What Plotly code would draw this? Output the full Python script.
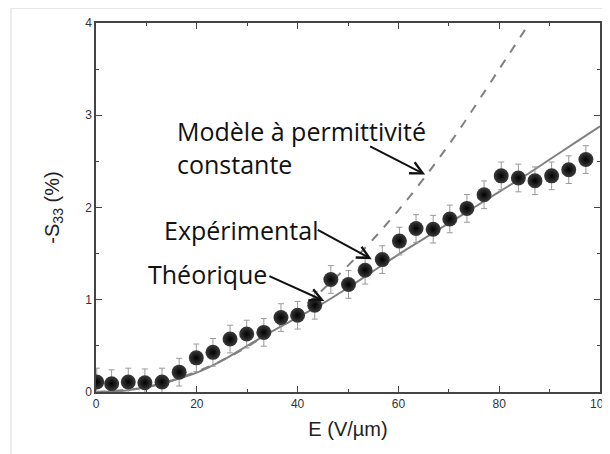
import plotly.graph_objects as go

# Experimental data
exp_x = [0.15, 3.1, 6.4, 9.7, 13.1, 16.5, 19.9, 23.2, 26.6, 29.9, 33.3, 36.7, 40.0, 43.4, 46.6,
         50.1, 53.4, 56.8, 60.2, 63.5, 66.9, 70.2, 73.6, 77.0, 80.4, 83.8, 87.1, 90.4, 93.8, 97.2]
exp_y = [0.108, 0.09, 0.108, 0.10, 0.108, 0.215, 0.37, 0.43, 0.574, 0.628, 0.646, 0.807, 0.832, 0.94, 1.22,
         1.166, 1.32, 1.435, 1.636, 1.772, 1.765, 1.876, 1.99, 2.138, 2.343, 2.32, 2.29, 2.343, 2.41, 2.52]
exp_err = [0.15] * len(exp_x)

# Theoretical curve
theo_x = [0, 5, 10, 15, 20, 25, 30, 35, 40, 45, 50, 55, 60, 65, 70, 75, 80, 85, 90, 95, 100]
theo_y = [0.0, 0.01, 0.05, 0.12, 0.21, 0.34, 0.50, 0.66, 0.81, 0.96, 1.13, 1.31, 1.49, 1.66, 1.83,
          2.0, 2.17, 2.34, 2.52, 2.70, 2.88]

# Constant permittivity model
const_x = [0, 10, 20, 30, 40, 50, 60, 70, 80, 86]
const_y = [0.0, 0.055, 0.22, 0.49, 0.875, 1.37, 1.97, 2.68, 3.5, 4.0]

x_ticks = [0, 20, 40, 60, 80, 100]
y_ticks = [0, 1, 2, 3, 4]

fig = go.Figure()
fig.add_trace(go.Scatter(x=const_x, y=const_y, mode="lines", line=dict(color="#808080", width=2, dash="dash", shape="spline"),
                         showlegend=False, hoverinfo="skip"))
fig.add_trace(go.Scatter(x=theo_x, y=theo_y, mode="lines", line=dict(color="#808080", width=2, shape="spline"),
                         showlegend=False, hoverinfo="skip"))
fig.add_trace(go.Scatter(x=exp_x, y=exp_y, mode="markers",
                         error_y=dict(type="data", array=exp_err, color="#999999", thickness=1, width=3),
                         marker=dict(size=15, color="#3c3c3c", gradient=dict(type="radial", color="#000000"),
                                     line=dict(width=0)),
                         showlegend=False))

txt_font = dict(family="Open Sans, Noto Sans, sans-serif", size=25, color="#111111")
for text, x, y in [("Modèle à permittivité", 15.6, 2.83), ("constante", 15.6, 2.475),
                   ("Expérimental", 13.1, 1.76), ("Théorique", 10.0, 1.28)]:
    fig.add_annotation(x=x, y=y, text=text, showarrow=False, xanchor="left", yanchor="middle", font=txt_font)

for (tx, ty, hx, hy) in [(54.1, 2.67, 65.3, 2.357), (43.7, 1.765, 54.7, 1.44), (34.1, 1.263, 45.3, 0.987)]:
    fig.add_annotation(x=hx, y=hy, ax=tx, ay=ty, xref="x", yref="y", axref="x", ayref="y", text="",
                       showarrow=True, arrowhead=5, arrowsize=1.2, arrowwidth=2, arrowcolor="#111111")

axis_common = dict(showline=True, linecolor="#444444", linewidth=1.5, mirror="ticks", ticks="inside",
                   ticklen=6, tickcolor="#444444", showgrid=False, zeroline=False, automargin=False,
                   tickfont=dict(family="Liberation Sans, Arial, sans-serif", size=12, color="#333333"),
                   minor=dict(ticks="inside", ticklen=3, tickcolor="#444444"))

fig.update_xaxes(range=[0, 100], tickvals=x_ticks, minor_dtick=10,
                 title=dict(text="E (V/µm)", font=dict(family="Liberation Sans, Arial, sans-serif", size=20, color="#222222"), standoff=12),
                 **axis_common)
fig.update_yaxes(range=[0, 4], tickvals=y_ticks, minor_dtick=0.5,
                 title=dict(text="-S<sub>33</sub> (%)", font=dict(family="Liberation Sans, Arial, sans-serif", size=20, color="#222222"), standoff=20),
                 **axis_common)

fig.add_shape(type="line", xref="paper", yref="paper", x0=-0.1687, x1=1.05, y0=1.04, y1=1.04, line=dict(color="#dddddd", width=1))
fig.add_shape(type="line", xref="paper", yref="paper", x0=-0.1687, x1=-0.1687, y0=1.04, y1=-0.2, line=dict(color="#dddddd", width=1))

fig.update_layout(width=610, height=454, margin=dict(l=88, r=18, t=15, b=70),
                  plot_bgcolor="white", paper_bgcolor="white")

fig.write_html("out.html")
